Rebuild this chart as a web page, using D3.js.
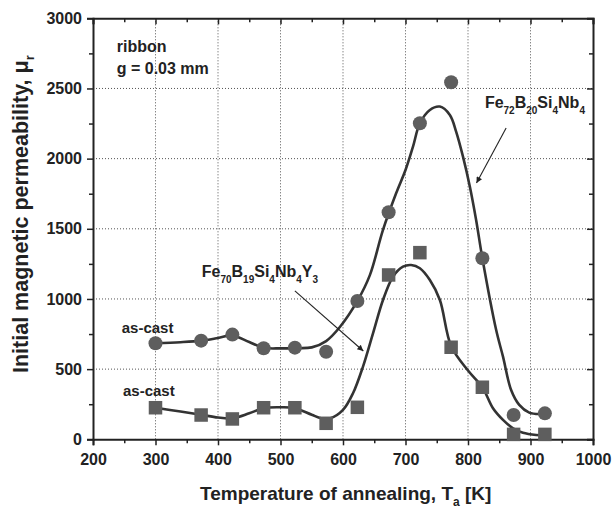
<!DOCTYPE html>
<html>
<head>
<meta charset="utf-8">
<script src="https://cdn.jsdelivr.net/npm/d3@7"></script>
<style>
  body { margin: 0; background: #fff; }
  svg { display: block; }
  text { font-family: "Liberation Sans", Arial, sans-serif; font-weight: bold; fill: #222; }
</style>
</head>
<body>
<svg id="chart" width="612" height="512"></svg>
<script>
// ---- data ----
const temps = [300, 373, 423, 473, 523, 573, 623, 673, 723, 773, 823, 873, 923];
const muFe72 = [684, 703, 746, 649, 653, 624, 986, 1618, 2252, 2544, 1290, 173, 185];
const muFe70 = [225, 173, 145, 225, 225, 114, 228, 1171, 1330, 656, 371, 35, 35];

// fitted curves as drawn in the reference
const fitFe72T = [300, 340, 373, 400, 423, 450, 473, 500, 523, 550, 573, 595, 623, 643, 664, 685, 700, 712, 723, 739, 755, 771, 781, 792, 803, 813, 823, 845, 856, 869, 882, 898, 914, 923];
const fitFe72 = [684, 692, 703, 722, 740, 693, 652, 648, 650, 655, 700, 800, 986, 1170, 1492, 1753, 1919, 2086, 2252, 2347, 2371, 2311, 2193, 2014, 1800, 1563, 1290, 780, 589, 351, 245, 190, 180, 185];
const fitFe70T = [300, 340, 373, 400, 423, 450, 473, 500, 523, 550, 565, 580, 600, 616, 632, 648, 664, 680, 696, 709, 723, 739, 755, 773, 800, 823, 840, 856, 872, 888, 909, 925];
const fitFe70 = [225, 198, 175, 155, 150, 185, 222, 228, 222, 175, 150, 150, 209, 328, 518, 755, 993, 1159, 1230, 1242, 1219, 1135, 993, 665, 490, 371, 221, 138, 78, 47, 31, 27];

const xTicks = [200, 300, 400, 500, 600, 700, 800, 900, 1000];
const yTicks = [0, 500, 1000, 1500, 2000, 2500, 3000];

// ---- layout ----
const svg = d3.select("#chart");
const L = 93, R = 593, T = 18.3, B = 439.3;
const x = d3.scaleLinear().domain([200, 1000]).range([L, R]);
const y = d3.scaleLinear().domain([0, 3000]).range([B, T]);

// grid
const grid = svg.append("g").attr("stroke", "#555").attr("stroke-width", 1).attr("stroke-dasharray", "1,2");
xTicks.filter(t => t > 200 && t < 1000).forEach(t => {
  grid.append("line").attr("x1", x(t)).attr("x2", x(t)).attr("y1", B).attr("y2", T);
});
yTicks.filter(t => t > 0 && t < 3000).forEach(t => {
  grid.append("line").attr("x1", L).attr("x2", R).attr("y1", y(t)).attr("y2", y(t));
});

// axes
const xMinor = d3.range(250, 1000, 100);
const yMinor = d3.range(250, 3000, 500);

function styleAxis(g) {
  g.selectAll("path").attr("stroke", "#222").attr("stroke-width", 2);
  g.selectAll("line").attr("stroke", "#222").attr("stroke-width", 1.5);
  g.selectAll("text").attr("font-size", 16).attr("font-family", "Liberation Sans, Arial, sans-serif").attr("font-weight", "bold").attr("fill", "#222");
}
// bottom
const gb = svg.append("g").attr("transform", `translate(0,${B})`)
  .call(d3.axisBottom(x).tickValues(xTicks).tickSize(6).tickPadding(8).tickFormat(d3.format("d")));
styleAxis(gb);
svg.append("g").attr("transform", `translate(0,${B})`)
  .call(d3.axisBottom(x).tickValues(xMinor).tickSize(4).tickFormat(""))
  .call(g => { g.select("path").remove(); styleAxis(g); });
// top
const gt = svg.append("g").attr("transform", `translate(0,${T})`)
  .call(d3.axisTop(x).tickValues(xTicks).tickSize(-6).tickFormat(""));
styleAxis(gt);
svg.append("g").attr("transform", `translate(0,${T})`)
  .call(d3.axisTop(x).tickValues(xMinor).tickSize(-4).tickFormat(""))
  .call(g => { g.select("path").remove(); styleAxis(g); });
// left
const gl = svg.append("g").attr("transform", `translate(${L},0)`)
  .call(d3.axisLeft(y).tickValues(yTicks).tickSize(6).tickPadding(5).tickFormat(d3.format("d")));
styleAxis(gl);
svg.append("g").attr("transform", `translate(${L},0)`)
  .call(d3.axisLeft(y).tickValues(yMinor).tickSize(4).tickFormat(""))
  .call(g => { g.select("path").remove(); styleAxis(g); });
// right
const gr = svg.append("g").attr("transform", `translate(${R},0)`)
  .call(d3.axisRight(y).tickValues(yTicks).tickSize(-6).tickFormat(""));
styleAxis(gr);
svg.append("g").attr("transform", `translate(${R},0)`)
  .call(d3.axisRight(y).tickValues(yMinor).tickSize(-4).tickFormat(""))
  .call(g => { g.select("path").remove(); styleAxis(g); });

// curves
const line = d3.line().x(d => x(d[0])).y(d => y(d[1])).curve(d3.curveCatmullRom.alpha(0.5));
const curveStyle = p => p.attr("fill", "none").attr("stroke", "#333").attr("stroke-width", 2.6).attr("stroke-linejoin", "round");
svg.append("path").datum(fitFe72T.map((t, i) => [t, fitFe72[i]])).attr("d", line).call(curveStyle);
svg.append("path").datum(fitFe70T.map((t, i) => [t, fitFe70[i]])).attr("d", line).call(curveStyle);

// markers
const markerFill = "#5e5e5e";
svg.append("g").selectAll("circle").data(temps.map((t, i) => [t, muFe72[i]])).join("circle")
  .attr("cx", d => x(d[0])).attr("cy", d => y(d[1])).attr("r", 7).attr("fill", markerFill);
const sq = 13.5;
svg.append("g").selectAll("rect").data(temps.map((t, i) => [t, muFe70[i]])).join("rect")
  .attr("x", d => x(d[0]) - sq / 2).attr("y", d => y(d[1]) - sq / 2).attr("width", sq).attr("height", sq).attr("fill", markerFill);

// arrows
const defs = svg.append("defs");
defs.append("marker").attr("id", "ah").attr("viewBox", "0 0 10 10").attr("refX", 10).attr("refY", 5)
  .attr("markerWidth", 9).attr("markerHeight", 6).attr("markerUnits", "userSpaceOnUse").attr("orient", "auto")
  .append("path").attr("d", "M0,0 L10,5 L0,10 Z").attr("fill", "#222");
const arrows = [
  { from: [861, 2218], to: [813.6, 1826] },
  { from: [523, 1058], to: [632.5, 629] }
];
arrows.forEach(a => {
  svg.append("line").attr("x1", x(a.from[0])).attr("y1", y(a.from[1]))
    .attr("x2", x(a.to[0])).attr("y2", y(a.to[1]))
    .attr("stroke", "#222").attr("stroke-width", 1.1).attr("marker-end", "url(#ah)");
});

// annotations
function formula(px, py, parts, mainSize, subSize) {
  const t = svg.append("text").attr("x", px).attr("y", py).attr("font-size", mainSize);
  let shifted = false;
  parts.forEach(p => {
    const s = t.append("tspan").text(p[0]);
    if (p[1]) {
      s.attr("font-size", subSize);
      if (!shifted) { s.attr("dy", 6); shifted = true; }
    } else {
      if (shifted) { s.attr("dy", -6); shifted = false; }
    }
  });
  return t;
}
formula(x(827), y(2362), [["Fe"], ["72", 1], ["B"], ["20", 1], ["Si"], ["4", 1], ["Nb"], ["4", 1]], 16, 10);
formula(x(374), y(1159), [["Fe"], ["70", 1], ["B"], ["19", 1], ["Si"], ["4", 1], ["Nb"], ["4", 1], ["Y"], ["3", 1]], 16, 10);

svg.append("text").attr("x", x(238)).attr("y", y(2762)).attr("font-size", 16).text("ribbon");
svg.append("text").attr("x", x(238)).attr("y", y(2603)).attr("font-size", 16).text("g = 0.03 mm");
svg.append("text").attr("x", x(246)).attr("y", y(760)).attr("font-size", 15).text("as-cast");
svg.append("text").attr("x", x(248)).attr("y", y(309)).attr("font-size", 15).text("as-cast");

// axis titles
const xt = svg.append("text").attr("x", 200).attr("y", 500).attr("font-size", 19);
xt.append("tspan").text("Temperature of annealing, T");
xt.append("tspan").text("a").attr("font-size", 12).attr("dy", 6);
xt.append("tspan").text(" [K]").attr("dy", -6);

const yt = svg.append("text").attr("transform", "translate(28,373) rotate(-90)").attr("font-size", 21.5);
yt.append("tspan").text("Initial magnetic permeability, μ");
yt.append("tspan").text("r").attr("font-size", 13).attr("dy", 6);
</script>
</body>
</html>
